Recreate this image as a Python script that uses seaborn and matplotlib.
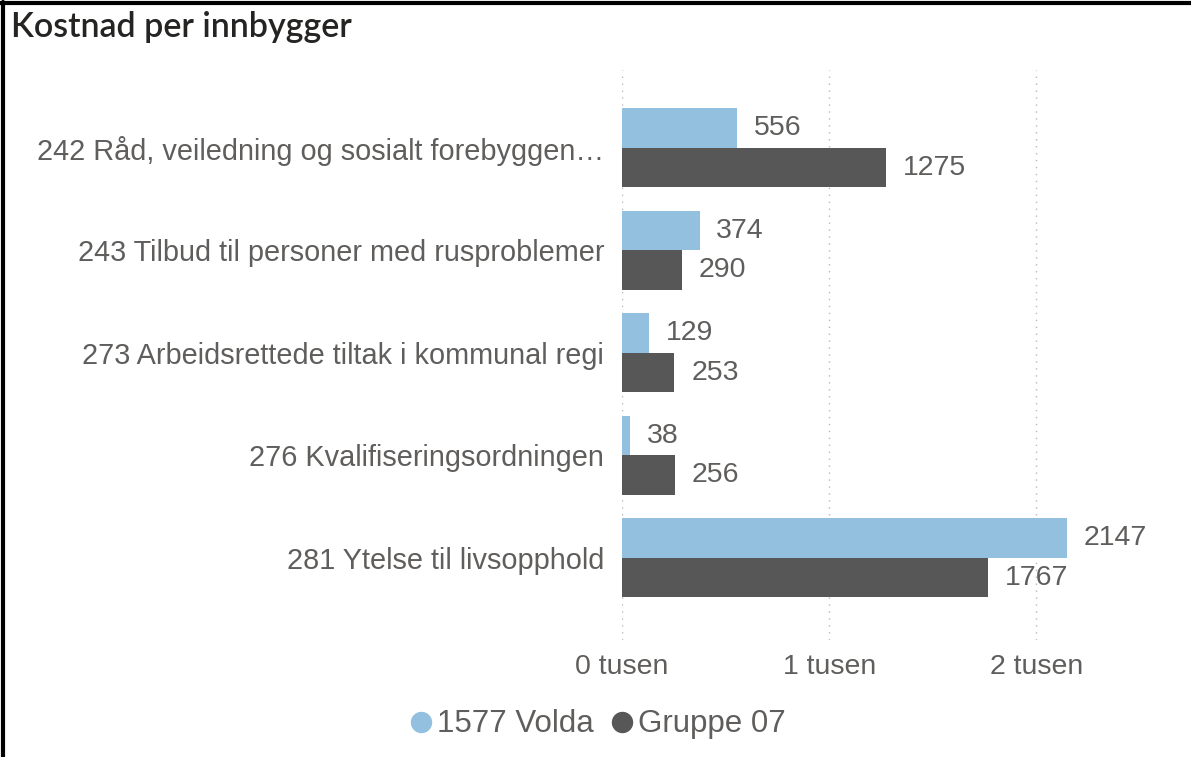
import pandas as pd
import matplotlib.pyplot as plt
import seaborn as sns
from matplotlib.lines import Line2D
from matplotlib.ticker import FixedLocator, FuncFormatter

# --- data ---
categories = [
    "242 Råd, veiledning og sosialt forebyggen…",
    "243 Tilbud til personer med rusproblemer",
    "273 Arbeidsrettede tiltak i kommunal regi",
    "276 Kvalifiseringsordningen",
    "281 Ytelse til livsopphold",
]
series = ["1577 Volda", "Gruppe 07"]
volda = [556, 374, 129, 38, 2147]
gruppe = [1275, 290, 253, 256, 1767]

colors = ["#94C0E0", "#575757"]
text_grey = "#605E5C"

df = pd.DataFrame({
    "Kategori": categories * 2,
    "Serie": [series[0]] * len(categories) + [series[1]] * len(categories),
    "Verdi": volda + gruppe,
})

sns.set_theme(style="white")
plt.rcParams['font.family'] = ['Liberation Sans', 'DejaVu Sans']

fig = plt.figure(figsize=(11.91, 7.57), dpi=100)
ax = fig.add_axes([0.5223, 0.1546, 0.40, 0.753])

sns.barplot(data=df, x="Verdi", y="Kategori", hue="Serie", orient="h",
            palette=colors, width=0.77, saturation=1, legend=False,
            linewidth=0, ax=ax)

for cont in ax.containers:
    ax.bar_label(cont, fmt="%d", padding=12, fontsize=20.5, color=text_grey)

ax.set_xlim(0, 2300)
ax.set_ylim(4.8, -0.76)
ax.xaxis.set_major_locator(FixedLocator([0, 1000, 2000]))
ax.xaxis.set_major_formatter(FuncFormatter(lambda v, p: f"{int(v // 1000)} tusen"))
ax.grid(axis="x", color="#B8B8B8", linestyle=(0, (1, 4)), linewidth=1)
ax.set_axisbelow(True)
for s in ax.spines.values():
    s.set_visible(False)
ax.set_xlabel("")
ax.set_ylabel("")
ax.tick_params(axis="x", labelsize=20.5, labelcolor=text_grey, length=0, pad=10)
ax.tick_params(axis="y", labelsize=20.8, labelcolor=text_grey, length=0, pad=13)

# title
fig.text(0.009, 0.964, "Kostnad per innbygger", fontsize=24.5, color="#252423",
         family=["Lato", "DejaVu Sans"], weight="semibold", va="center", ha="left")

# legend
handles = [Line2D([], [], marker="o", linestyle="", markersize=14.4,
                  markerfacecolor=c, markeredgecolor=c) for c in colors]
fig.legend(handles, series, loc="center", bbox_to_anchor=(0.5, 0.043),
           ncol=2, frameon=False, fontsize=22.5, labelcolor=text_grey,
           handletextpad=0.0, columnspacing=0.4, handlelength=1.0)

# border on top and left
fig.add_artist(Line2D([0.0025, 0.0025], [0, 0.997], transform=fig.transFigure,
                      color="black", linewidth=3))
fig.add_artist(Line2D([0, 1], [0.9965, 0.9965], transform=fig.transFigure,
                      color="black", linewidth=3))

fig.savefig("out.png", dpi=100)
